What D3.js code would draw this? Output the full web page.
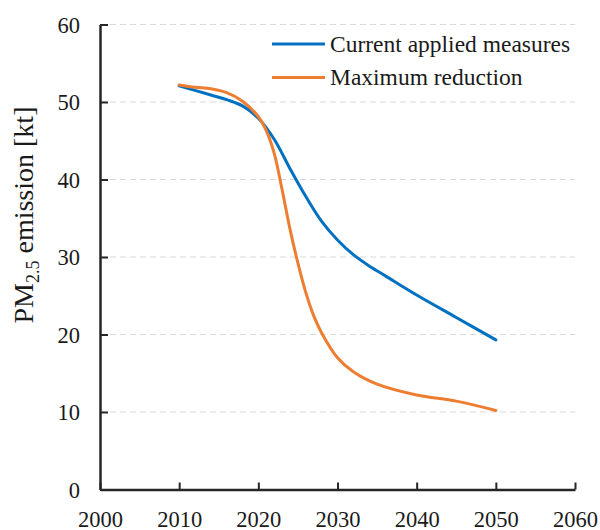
<!DOCTYPE html>
<html>
<head>
<meta charset="utf-8">
<script src="https://cdn.jsdelivr.net/npm/d3@7/dist/d3.min.js"></script>
<style>
  body { margin: 0; background: #fff; }
  svg { display: block; font-family: "Liberation Serif", "Times New Roman", serif; }
</style>
</head>
<body>
<svg id="chart" width="600" height="530"></svg>
<script>
// ---- data ----
const xTicks = [2000, 2010, 2020, 2030, 2040, 2050, 2060];
const yTicks = [0, 10, 20, 30, 40, 50, 60];

const currentYears  = [2010, 2012, 2014, 2016, 2018, 2020, 2022, 2024, 2026, 2028, 2030, 2032, 2034, 2036, 2040, 2045, 2050];
const currentValues = [52.1, 51.5, 50.9, 50.3, 49.5, 47.9, 45.2, 41.4, 37.8, 34.6, 32.2, 30.3, 28.85, 27.6, 25.1, 22.2, 19.3];

const maxYears  = [2010, 2012, 2014, 2016, 2018, 2020, 2021, 2022, 2023, 2024, 2025, 2026, 2027, 2028, 2030, 2032, 2035, 2040, 2045, 2050];
const maxValues = [52.2, 51.9, 51.7, 51.2, 50.1, 48.1, 46.3, 43.4, 38.7, 33.6, 29.2, 25.4, 22.4, 20.2, 17.0, 15.2, 13.6, 12.2, 11.4, 10.2];

const seriesNames = ["Current applied measures", "Maximum reduction"];
const seriesColors = ["#0070C0", "#ED7D31"];

// ---- layout ----
const svg = d3.select("#chart");
const x = d3.scaleLinear().domain([2000, 2060]).range([100, 575]);
const y = d3.scaleLinear().domain([0, 60]).range([489.5, 24.5]);

// gridlines
svg.append("g").selectAll("line")
  .data(yTicks.filter(d => d > 0))
  .join("line")
  .attr("x1", x(2000)).attr("x2", x(2060))
  .attr("y1", d => y(d)).attr("y2", d => y(d))
  .attr("stroke", "#D9D9D9").attr("stroke-width", 1)
  .attr("stroke-dasharray", "6,4");

// series
const line = d3.line().x(d => x(d[0])).y(d => y(d[1])).curve(d3.curveCatmullRom.alpha(0.5));
const series = [
  d3.zip(currentYears, currentValues),
  d3.zip(maxYears, maxValues)
];
svg.append("g").selectAll("path")
  .data(series)
  .join("path")
  .attr("d", line)
  .attr("fill", "none")
  .attr("stroke", (d, i) => seriesColors[i])
  .attr("stroke-width", 3)
  .attr("stroke-linecap", "round");

// axes
const axisColor = "#262626";
const xAxis = svg.append("g").attr("transform", `translate(0,${y(0)})`)
  .call(d3.axisBottom(x).tickValues(xTicks).tickFormat(d3.format("d")).tickSizeInner(-7).tickSizeOuter(0));
const yAxis = svg.append("g").attr("transform", `translate(${x(2000)},0)`)
  .call(d3.axisLeft(y).tickValues(yTicks).tickSizeInner(-8).tickSizeOuter(0));

[xAxis, yAxis].forEach(g => {
  g.select(".domain").attr("stroke", axisColor).attr("stroke-width", 2.5);
  g.selectAll(".tick line").attr("stroke", axisColor).attr("stroke-width", 2);
  g.selectAll("text").attr("fill", "#1a1a1a").attr("font-size", 22.5)
    .attr("font-family", "Liberation Serif, Times New Roman, serif");
});
xAxis.selectAll(".tick text").attr("y", 0).attr("dy", 0).attr("transform", "translate(0,37)");
yAxis.selectAll(".tick text").attr("x", -20).attr("dy", "0.35em");

// y axis title
const yt = svg.append("text")
  .attr("transform", "translate(33,215) rotate(-90)")
  .attr("text-anchor", "middle")
  .attr("font-size", 28)
  .attr("fill", "#1a1a1a");
yt.append("tspan").text("PM");
yt.append("tspan").attr("font-size", 18).attr("dy", 6).text("2.5");
yt.append("tspan").attr("dy", -6).text(" emission [kt]");

// legend
const legend = svg.append("g").selectAll("g")
  .data(seriesNames)
  .join("g")
  .attr("transform", (d, i) => `translate(272,${44 + i * 33.5})`);
legend.append("line")
  .attr("x1", 0).attr("x2", 53).attr("y1", 0).attr("y2", 0)
  .attr("stroke", (d, i) => seriesColors[i]).attr("stroke-width", 3);
legend.append("text")
  .attr("x", 58).attr("dy", "0.33em")
  .attr("font-size", 23.5).attr("fill", "#1a1a1a")
  .text(d => d);
</script>
</body>
</html>
